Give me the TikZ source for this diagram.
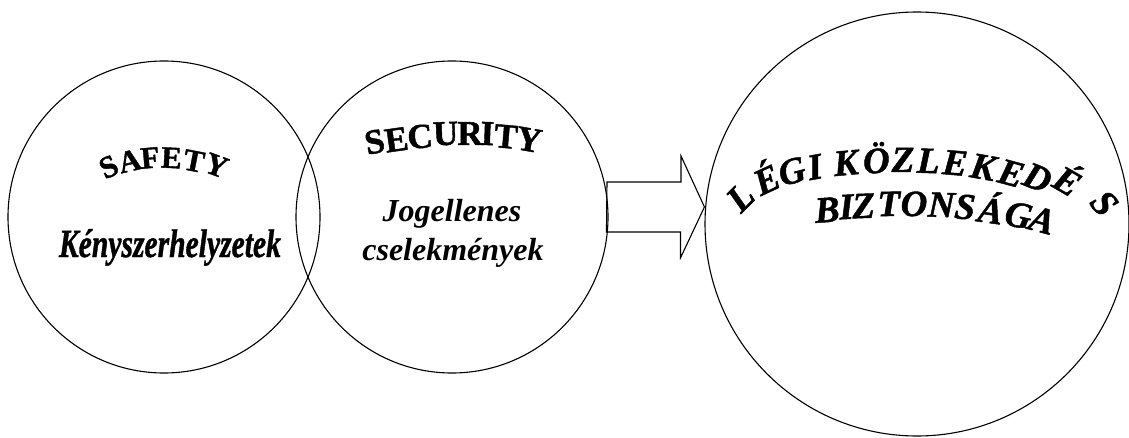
\documentclass[tikz,border=0pt]{standalone}
\usepackage{fontspec}
\setmainfont{Liberation Serif}
\newfontfamily\heavyserif{Liberation Serif Bold}[FakeBold=1.2]
\newfontfamily\heavyitalic{Liberation Serif Bold Italic}[FakeBold=1.2]
\usepackage{graphicx}

% fonts for the titles
\newcommand\safetyfont{\heavyserif\fontsize{31}{31}\selectfont}
\newcommand\securityfont{\heavyserif\fontsize{35}{35}\selectfont}
\newcommand\titlefont{\heavyitalic\fontsize{37}{37}\selectfont}
\newcommand\subfont{\bfseries\itshape\fontsize{32}{38}\selectfont}
\newcommand\emergfont{\heavyitalic\fontsize{40}{40}\selectfont}

\tikzset{
  ring/.style={circle, draw=black, line width=1.1pt, inner sep=0pt, fill=none},
  blockarrow/.style={draw=black, line width=1.1pt, line join=miter},
  archletter/.style={anchor=base, inner sep=0pt, outer sep=0pt},
}

\begin{document}
\begin{tikzpicture}[x=1pt, y=1pt]
\useasboundingbox (0,0) rectangle (1129,437);
\fill[white] (0,0) rectangle (1129,437);

% the three circles
\node[ring, minimum size=312pt] (safety) at (164,220) {};
\node[ring, minimum size=312pt] (security) at (452,220) {};
\node[ring, minimum size=424pt] (aviation) at (917,213) {};

% block arrow from the second circle to the large one
\coordinate (tail) at (607,230);
\coordinate (tip) at (aviation.west |- tail);
\draw[blockarrow] (tail) ++(0,25) -- ++(74,0) -- ++(0,26) -- (tip)
  -- ++(-24,-51) -- ++(0,26) -- ++(-74,0) -- cycle;

% arched heading: letter / x / y (from the top edge) / rotation
\foreach \ch/\x/\y/\r [count=\i] in
  {S/113/176/25, A/132/171/13, F/151/168/5, E/171/168/-3, T/192/171/-11, Y/213/175/-20}
  \node[archletter, font=\safetyfont, rotate=\r] (sf\i) at (\x, 437-\y) {\ch};
\node[anchor=base, font=\emergfont] (emerg) at (170,180)
  {\scalebox{0.74}[1]{Kényszerhelyzetek}};

\foreach \ch/\x/\y/\r [count=\i] in
  {S/377/153/12, E/398/151/8, C/421/148/5, U/446/145/2, R/470/145/0,
   I/487/145/-2, T/505/148/-5, Y/527/151/-10}
  \node[archletter, font=\securityfont, rotate=\r] (sc\i) at (\x, 437-\y) {\ch};
\node[anchor=base, font=\subfont] (unlawful1) at (452,215) {Jogellenes};
\node[anchor=base, font=\subfont] (unlawful2) at (453,177) {cselekmények};

% two-line arched title of the large circle
\foreach \ch/\x/\y/\r [count=\i] in
  {L/749/206/45, É/772/191/25, G/795/183/15, I/817/179/10,
   K/847/175/5, Ö/877/173/3, Z/903/172/0, L/928/173/-2, E/954/175/-5,
   K/981/179/-10, E/1008/185/-15, D/1033/189/-22, É/1061/192/-30, S/1095/211/-50}
  \node[archletter, font=\titlefont, rotate=\r] (ti\i) at (\x, 437-\y) {\ch};
\foreach \ch/\x/\y/\r [count=\i] in
  {B/828/222/4, I/847/219/3, Z/864/218/2, T/889/216/1, O/914/216/0,
   N/941/217/-2, S/964/219/-5, Á/989/223/-8, G/1016/227/-12, A/1039/232/-15}
  \node[archletter, font=\titlefont, rotate=\r] (bz\i) at (\x, 437-\y) {\ch};
\end{tikzpicture}
\end{document}
